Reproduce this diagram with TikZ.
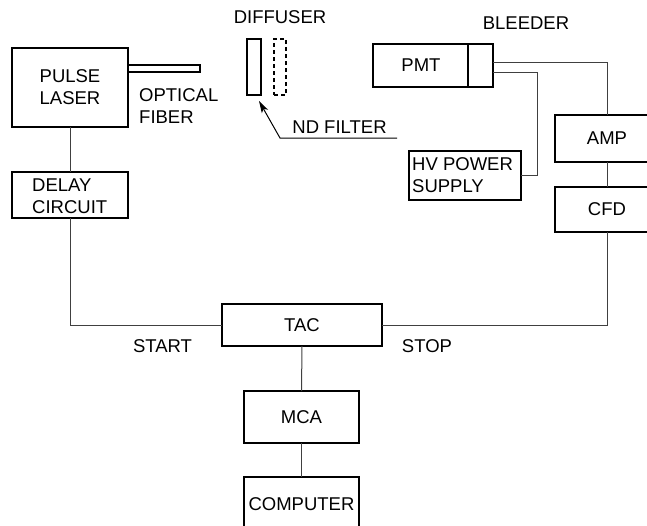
\documentclass[tikz,border=0pt]{standalone}
\usepackage{fontspec}
\setmainfont{Liberation Sans}
\usetikzlibrary{arrows.meta,calc}
\begin{document}
\begin{tikzpicture}[x=1pt,y=-1pt,
  font=\fontsize{18.5}{22}\selectfont,
  box/.style={draw=black,line width=2pt,rectangle,inner sep=0pt,outer sep=0pt},
  thinbox/.style={draw=black,line width=1.2pt,rectangle,inner sep=0pt,outer sep=0pt},
  wire/.style={draw=black!75,line width=1pt},
  lbl/.style={inner sep=0pt,align=left},
  clbl/.style={inner sep=0pt,align=center}]
\useasboundingbox (0,0) rectangle (647,525);
\clip (0,0) rectangle (647,525);
% boxes
\node[box,minimum width=116,minimum height=79,clbl] (laser) at (70,87.5) {PULSE\\LASER};
\node[box,minimum width=72,minimum height=7] (fiber) at (164,68.5) {};
\node[lbl,anchor=west] (fibertxt) at (139,106.5) {OPTICAL\\FIBER};
\node[clbl] (difftxt) at (280,17) {DIFFUSER};
\node[thinbox,minimum width=14,minimum height=56] (diff) at (254,67) {};
\node[thinbox,dashed,dash pattern=on 4pt off 3pt,minimum width=12,minimum height=56] (filt) at (280,67) {};
\node[clbl] (ndtxt) at (339.5,127) {ND FILTER};
\coordinate (ndend) at (397,138);
\coordinate (ndturn) at (280,138);
\coordinate (ndtip) at (259,101);
\draw[black,line width=1pt,-{Stealth[length=12pt,width=7pt,inset=3pt]}] (ndend) -- (ndturn) -- (ndtip);
% PMT
\node[box,minimum width=120,minimum height=43] (pmt) at (433,65.5) {};
\node[clbl] (pmttxt) at (421,65.5) {PMT};
\draw[black,line width=1.2pt] ([xshift=-25pt]pmt.north east) -- ([xshift=-25pt]pmt.south east);
\node[clbl] (bleedtxt) at (526,23) {BLEEDER};
\node[box,minimum width=112,minimum height=49] (hv) at (465,175.5) {};
\node[lbl,anchor=west] (hvtxt) at (412,175.5) {HV POWER\\SUPPLY};
\node[box,minimum width=104,minimum height=47,clbl] (amp) at (607,138.5) {AMP};
\node[box,minimum width=104,minimum height=45,clbl] (cfd) at (607,209.5) {CFD};
\node[box,minimum width=116,minimum height=46] (delay) at (70,195) {};
\node[lbl,anchor=west] (delaytxt) at (32,196) {DELAY\\CIRCUIT};
\node[box,minimum width=160,minimum height=42,clbl] (tac) at (302,325) {TAC};
\node[clbl] (starttxt) at (162.5,346) {START};
\node[clbl] (stoptxt) at (427,346) {STOP};
\node[box,minimum width=115,minimum height=52,clbl] (mca) at (301.5,417) {MCA};
\node[box,minimum width=115,minimum height=54,clbl] (comp) at (301.5,504) {COMPUTER};
% wires
\draw[wire] (laser.south) -- (delay.north);
\draw[wire] (delay.south) |- (tac.west);
\draw[wire] (tac.east) -| (cfd.south);
\draw[wire] (amp.south) -- (cfd.north);
\draw[wire] (tac.south) -- (mca.north);
\draw[wire] (mca.south) -- (comp.north);
\draw[wire] ([yshift=3.5pt]pmt.east) -| (amp.north);
\draw[wire] ([yshift=-6.5pt]pmt.east) -- ++(44,0) |- (hv.east);
\end{tikzpicture}
\end{document}
